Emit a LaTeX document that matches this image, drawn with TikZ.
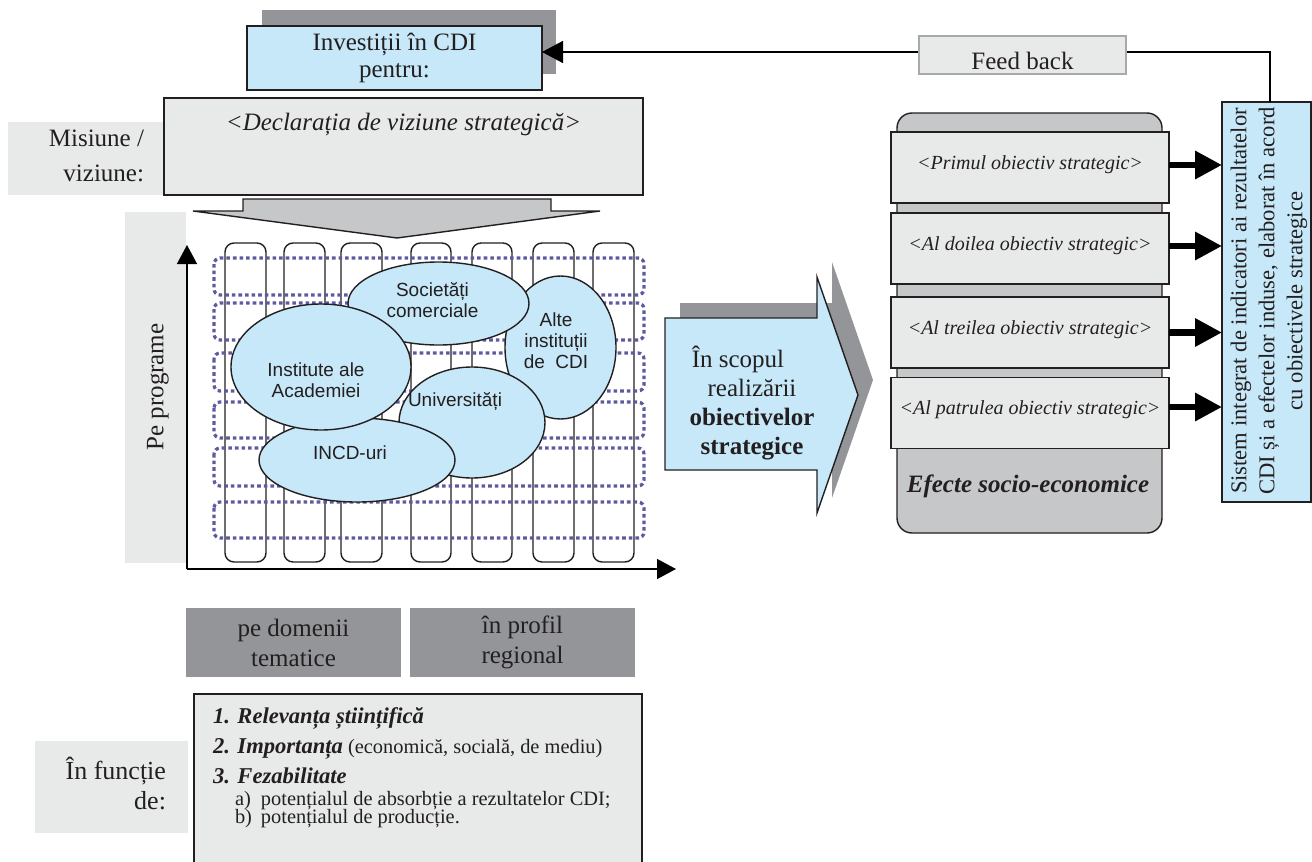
\documentclass[tikz,border=0pt]{standalone}
\usepackage{fontspec}
\setmainfont{Liberation Serif}
\setsansfont{Liberation Sans}
\usetikzlibrary{arrows.meta,shapes.geometric}

\definecolor{ink}{HTML}{231F20}
\definecolor{cdiblue}{HTML}{C7E8F8}
\definecolor{darkpanel}{HTML}{939598}
\definecolor{lightpanel}{HTML}{E8E9E9}
\definecolor{midpanel}{HTML}{C6C7C9}
\definecolor{gridpurple}{HTML}{5E5A9F}
\definecolor{fbborder}{HTML}{A7A9AC}

\newcommand{\fsz}[2]{\fontsize{#1}{#2}\selectfont}

\begin{document}
\begin{tikzpicture}[x=0.5pt,y=-0.5pt,
  every node/.style={text=ink, inner sep=0pt, outer sep=0pt},
  framed/.style={draw=ink, line width=0.7pt},
  column/.style={draw=ink, line width=0.7pt, rounded corners=4.5pt},
  band/.style={draw=gridpurple, line width=1.6pt, dash pattern=on 1.8pt off 1.5pt, rounded corners=3pt},
  actor/.style={ellipse, draw=ink, line width=0.7pt, fill=cdiblue},
  actortext/.style={font=\sffamily\fsz{9.5}{10.5}, align=center},
  objbox/.style={rectangle, framed, fill=lightpanel, minimum width=139pt, minimum height=35.5pt,
                 text height=7pt, text depth=5.4pt, font=\itshape\fsz{10}{12}},
  fatarrow/.style={line width=3.2pt, -{Triangle[length=13.5pt,width=13.5pt]}},
  axis/.style={line width=0.7pt, -{Triangle[length=9.5pt,width=10pt]}},
  darkbox/.style={rectangle, fill=darkpanel, minimum height=34.5pt, align=center, font=\fsz{12.5}{15}},
]
\useasboundingbox (0,0) rectangle (1312,862);
\clip (0,0) rectangle (1312,862);

% ---- investment box with its shadow
\fill[darkpanel] (262,10) rectangle (556,74);
\node[rectangle, framed, fill=cdiblue, minimum width=147.5pt, minimum height=32pt,
      align=center, font=\fsz{12.5}{13.5}] (inv) at (394.5,58) {Investiții în CDI\\pentru:};

% ---- mission / vision
\node[rectangle, fill=lightpanel, minimum width=78pt, minimum height=36.5pt] (misbox) at (86,158.5) {};
\node[anchor=east, align=right, font=\fsz{12.5}{17.5}] (mis) at (144,156) {Misiune /\\viziune:};
\node[rectangle, framed, fill=lightpanel, minimum width=239.5pt, minimum height=48.5pt,
      text height=9pt, text depth=25.5pt, font=\itshape\fsz{12.5}{14}] (decl) at (403.5,146.5)
      {<Declarația de viziune strategică>};

% ---- broad downward arrow
\draw[framed, fill=midpanel] (243,199) -- (551,199) -- (551,211) -- (600,211) -- (397,238)
      -- (193,211) -- (243,211) -- cycle;

% ---- programme axis label
\node[rectangle, fill=lightpanel, minimum width=30.5pt, minimum height=175.5pt] (progbox) at (155.5,387.5) {};
\node[rotate=90, font=\fsz{12.5}{14}] (prog) at (158,387) {Pe programe};

% ---- grid: thematic columns and programme bands
\foreach \a/\b in {225/266, 284/325, 341/382, 411/451, 472/512, 533/574, 593/634}
  \draw[column] (\a,243) rectangle (\b,562);
\foreach \a/\b in {258/295, 303/340, 353/391, 402/438, 448/486, 502/538}
  \draw[band] (214,\a) rectangle (644,\b);

% ---- axes
\coordinate (orig) at (187,569);
\coordinate (ytip) at (187,245);
\coordinate (xtip) at (676,569);
\draw[axis] (orig) -- (ytip);
\draw[axis] (orig) -- (xtip);

% ---- research actors
\node[actor, minimum width=55.5pt, minimum height=71.5pt] (alte) at (560.5,347.5) {};
\node[actor, minimum width=90.5pt, minimum height=41.5pt] (soc) at (438.5,303.5) {};
\node[actor, minimum width=73pt, minimum height=55.5pt] (univ) at (472,422.5) {};
\node[actor, minimum width=98pt, minimum height=42pt] (incd) at (357,460) {};
\node[actor, minimum width=90pt, minimum height=63pt] (acad) at (321,367) {};
\node[actortext] (soct) at (432.5,300) {Societăți\\comerciale};
\node[actortext] (altet) at (556,341) {Alte\\instituții\\de~ CDI};
\node[actortext] (acadt) at (316,380) {Institute ale\\Academiei};
\node[actortext] (univt) at (455,402) {Universități};
\node[actortext] (incdt) at (350,453) {INCD-uri};

% ---- purpose arrow
\fill[darkpanel] (680,303) -- (832,303) -- (832,262) -- (873,380) -- (832,498) -- (832,455)
      -- (680,455) -- cycle;
\draw[framed, fill=cdiblue] (665,318) -- (817,318) -- (817,277) -- (858,395) -- (817,513)
      -- (817,470) -- (665,470) -- cycle;
\node[align=center, font=\fsz{12.5}{14.5}] (scope) at (752,403)
      {În scopul\hspace*{14pt}\\realizării\\\textbf{obiectivelor}\\\textbf{strategice}};

% ---- strategic objectives
\node[rectangle, framed, fill=midpanel, rounded corners=7.5pt, minimum width=132.5pt,
      minimum height=210pt] (eff) at (1029.5,323) {};
\node[objbox] (o1) at (1030,167.5) {<Primul obiectiv strategic>};
\node[objbox] (o2) at (1030,248.5) {<Al doilea obiectiv strategic>};
\node[objbox] (o3) at (1030,332.5) {<Al treilea obiectiv strategic>};
\node[objbox] (o4) at (1030,413) {<Al patrulea obiectiv strategic>};
\node[anchor=base, font=\bfseries\itshape\fsz{12.5}{14}] (efftxt) at (1028,492) {Efecte socio-economice};

% ---- indicator system
\node[rectangle, framed, fill=cdiblue, minimum width=44.5pt, minimum height=200pt] (sis) at (1266.5,302) {};
\node[rotate=90, align=center, font=\fsz{11.3}{14}] (sistxt) at (1269,301)
      {Sistem integrat de indicatori ai rezultatelor\\CDI și a efectelor induse, elaborat în acord\\cu obiectivele strategice};
\foreach \o/\s in {o1/1.25pt, o2/1.25pt, o3/0pt, o4/3pt} {
  \path ([yshift=\s]\o.east) coordinate (s\o);
  \draw[fatarrow] (s\o) -- (s\o -| sis.west);
}

% ---- feedback loop
\coordinate (fbk) at (1270,52);
\draw[line width=0.75pt, -{Triangle[length=10.5pt,width=11pt]}] (sis.north -| fbk) -- (fbk) -- (inv.east |- fbk);
\node[rectangle, draw=fbborder, line width=0.7pt, fill=lightpanel, minimum width=103.5pt,
      minimum height=19pt, text height=14pt, text depth=0pt, font=\fsz{12.5}{14}] (fb) at (1022.5,55) {Feed back};

% ---- horizontal axis categories
\node[darkbox, minimum width=107.5pt] (dom) at (293.5,642.5) {pe domenii\\tematice};
\node[darkbox, minimum width=112.5pt] (reg) at (522.5,642.5) {în profil\\regional};

% ---- selection criteria
\node[rectangle, fill=lightpanel, minimum width=76.5pt, minimum height=46pt] (fctbox) at (111.5,787) {};
\node[anchor=east, align=right, font=\fsz{13}{15}] (fct) at (166,783.5) {În funcție\\de:};
\node[rectangle, framed, fill=lightpanel, minimum width=224pt, minimum height=100pt,
      anchor=north west] (crit) at (194,694) {};
\node[anchor=base west, font=\bfseries\itshape\fsz{11.3}{13}] (c1) at (213,723) {1. Relevanța științifică};
\node[anchor=base west, font=\fsz{10.2}{13}] (c2) at (213,753)
      {{\bfseries\itshape\fsz{11.3}{13}2. Importanța} (economică, socială, de mediu)};
\node[anchor=base west, font=\bfseries\itshape\fsz{11.3}{13}] (c3) at (213,783) {3. Fezabilitate};
\node[anchor=base west, font=\fsz{10.2}{12}] (c3a) at (235,805)
      {\makebox[13pt][l]{a)}potențialul de absorbție a rezultatelor CDI;};
\node[anchor=base west, font=\fsz{10.2}{12}] (c3b) at (235,823)
      {\makebox[13pt][l]{b)}potențialul de producție.};
\end{tikzpicture}
\end{document}
